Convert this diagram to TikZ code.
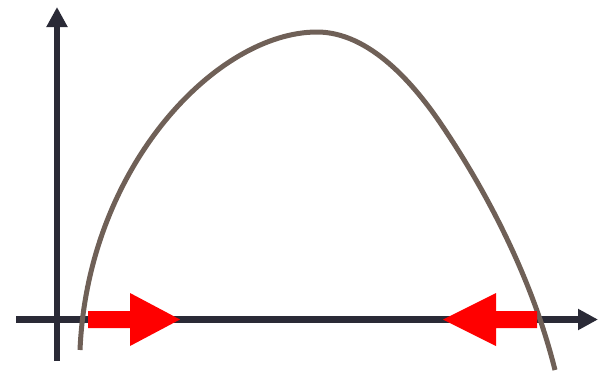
\documentclass[tikz,border=0pt]{standalone}
\usepackage{tikz}
\usetikzlibrary{arrows.meta}
\definecolor{axisDark}{HTML}{2A2A36}
\definecolor{curveBrown}{HTML}{6F6057}
\definecolor{pushRed}{HTML}{FF0000}

\begin{document}
\begin{tikzpicture}[x=0.02cm, y=-0.02cm,
    axis/.style={line width=0.14cm, axisDark, -{Triangle[length=0.4cm, width=0.4cm]}},
    hump/.style={line width=0.1cm, curveBrown},
    push/.style={fill=pushRed, draw=none}]
            \useasboundingbox (0,0) rectangle (606,373);
            % axes
            \coordinate (xstart) at (16,319.5);
            \coordinate (xend) at (598,319.5);
            \coordinate (ystart) at (57,361);
            \coordinate (yend) at (57,7);
            \draw[axis] (ystart) -- (yend);
            \draw[axis] (xstart) -- (xend);
            % curve
            \coordinate (humpL) at (80,350);
            \coordinate (humpTop) at (317,32);
            \coordinate (humpR) at (555,370);
            \draw[hump] (humpL) .. controls (88,165) and (218,32) .. (humpTop)
                .. controls (370,32) and (415,85) .. (443,127)
                .. controls (480,182) and (530,270) .. (humpR);
            % red arrows
            \fill[push] (88,311) -- (130,311) -- (130,293) -- (180,319.5) -- (130,346) -- (130,328) -- (88,328) -- cycle;
            \fill[push] (537,311) -- (496,311) -- (496,293) -- (443,319.5) -- (496,346) -- (496,328) -- (537,328) -- cycle;
        \end{tikzpicture}
\end{document}
